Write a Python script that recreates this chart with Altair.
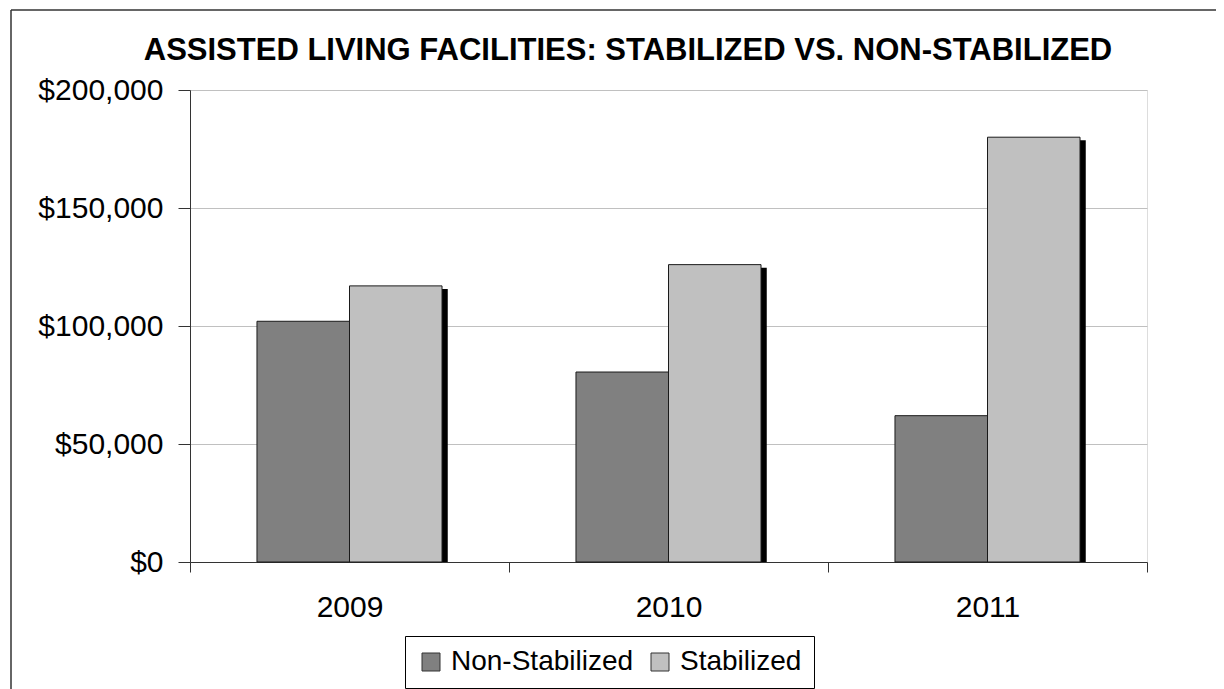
import altair as alt
import pandas as pd

years = ["2009", "2010", "2011"]
non_stabilized = [102000, 80500, 62000]
stabilized = [117000, 126000, 180000]
series = ["Non-Stabilized", "Stabilized"]
colors = ["#808080", "#c0c0c0"]
y_ticks = [0, 50000, 100000, 150000, 200000]
title_text = "ASSISTED LIVING FACILITIES: STABILIZED VS. NON-STABILIZED"

rows = []
for i, yr in enumerate(years):
    rows.append({"year": yr, "series": series[0], "value": non_stabilized[i]})
    rows.append({"year": yr, "series": series[1], "value": stabilized[i]})
df = pd.DataFrame(rows)

FONT = "Liberation Sans"

x_enc = alt.X(
    "year:N",
    title=None,
    sort=years,
    scale=alt.Scale(paddingInner=0, paddingOuter=0),
    axis=alt.Axis(
        labelAngle=0,
        tickBand="extent",
        tickSize=10,
        labelPadding=20,
        labelFontSize=30,
        labelColor="#000000",
        domainColor="#333333",
        tickColor="#333333",
        grid=False,
    ),
)
xo_enc = alt.XOffset(
    "series:N",
    sort=series,
    scale=alt.Scale(domain=series, paddingInner=0, paddingOuter=0.724),
)
y_enc = alt.Y(
    "value:Q",
    title=None,
    scale=alt.Scale(domain=[0, 200000]),
    axis=alt.Axis(
        values=y_ticks,
        format="$,.0f",
        tickSize=12,
        labelPadding=15,
        labelFontSize=30,
        labelColor="#000000",
        domainColor="#333333",
        tickColor="#333333",
        gridColor="#c0c0c0",
        gridWidth=1,
    ),
)

shadow = (
    alt.Chart(df)
    .transform_filter(alt.datum.series == "Stabilized")
    .mark_bar(
        color="#000000",
        width=alt.RelativeBandSize(0.29),
        xOffset=52,
        yOffset=3,
        clip=True,
    )
    .encode(x=x_enc, y=y_enc)
)

bars = (
    alt.Chart(df)
    .mark_bar(stroke="#1a1a1a", strokeWidth=1)
    .encode(
        x=x_enc,
        xOffset=xo_enc,
        y=y_enc,
        color=alt.Color(
            "series:N",
            sort=series,
            scale=alt.Scale(domain=series, range=colors),
            legend=alt.Legend(
                title=None,
                orient="none",
                legendX=215,
                legendY=546,
                direction="horizontal",
                strokeColor="#000000",
                padding=12,
                symbolType="square",
                symbolSize=324,
                symbolStrokeColor="#333333",
                symbolStrokeWidth=1,
                labelFont=FONT,
                labelFontSize=28,
                labelColor="#000000",
                labelOffset=6,
                columnPadding=12,
                labelLimit=400,
            ),
        ),
    )
)

one_row = alt.Data(values=[{"k": 1}])

title_mark = (
    alt.Chart(one_row)
    .mark_text(
        font=FONT,
        fontSize=31,
        fontWeight="bold",
        color="#000000",
        align="center",
        baseline="alphabetic",
    )
    .encode(text=alt.value(title_text), x=alt.value(438), y=alt.value(-30.5))
)

frame_left = (
    alt.Chart(one_row)
    .mark_rule(color="#333333", strokeWidth=1.5)
    .encode(x=alt.value(-179), y=alt.value(-80), y2=alt.value(610))
)
frame_top = (
    alt.Chart(one_row)
    .mark_rule(color="#333333", strokeWidth=1.5)
    .encode(x=alt.value(-179), x2=alt.value(1040), y=alt.value(-80))
)

chart = (
    alt.layer(shadow, bars, title_mark, frame_left, frame_top)
    .properties(
        width=957,
        height=472,
        autosize=alt.AutoSizeParams(type="none"),
        padding={"left": 182, "top": 82, "right": 69, "bottom": 128},
    )
    .configure_view(stroke="#333333", strokeWidth=1)
    .configure_axis(labelFont=FONT)
    .configure(background="#ffffff")
)

chart.save("out.html", embed_options={"renderer": "svg", "actions": False})
